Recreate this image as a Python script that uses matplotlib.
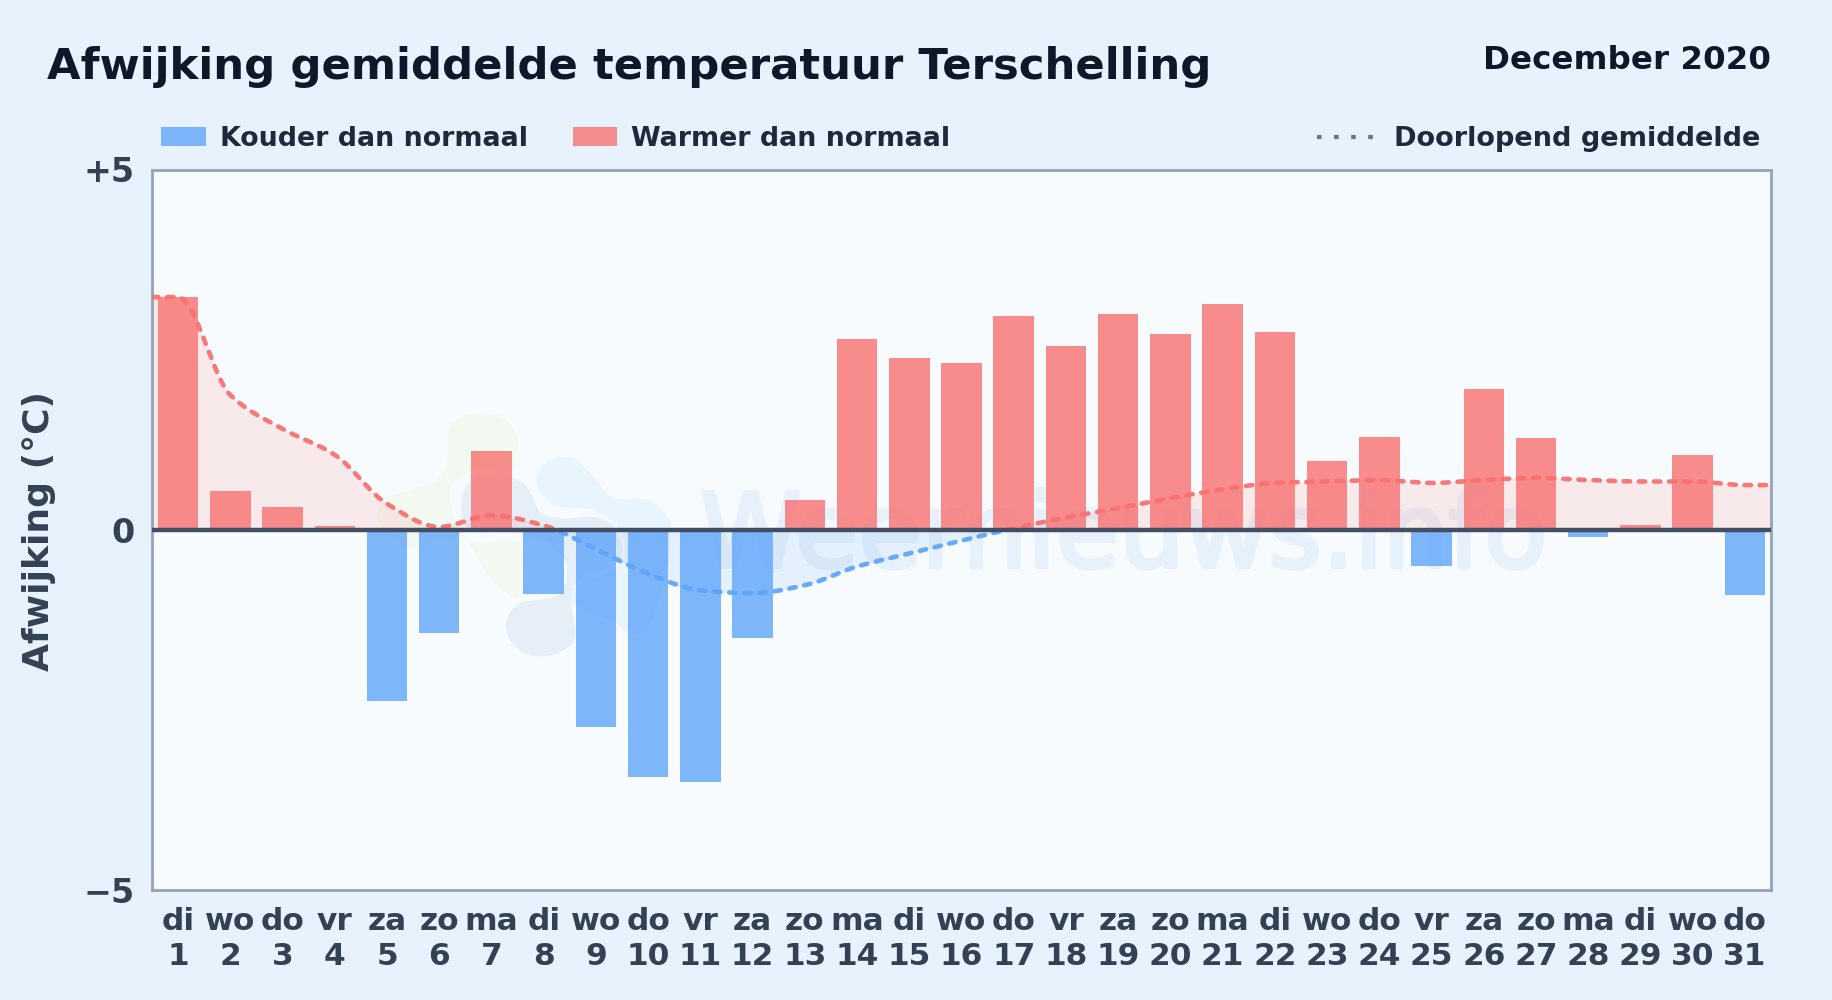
import numpy as np
import matplotlib
matplotlib.use("Agg")
import matplotlib.pyplot as plt
import matplotlib.patheffects as pe
from matplotlib.patches import PathPatch, Rectangle
from matplotlib.path import Path
from matplotlib.lines import Line2D

plt.rcParams['font.family'] = ['DejaVu Sans']

TITLE = "Afwijking gemiddelde temperatuur Terschelling"
PERIOD = "December 2020"
YLABEL = "Afwijking (°C)"
LEG_COLD = "Kouder dan normaal"
LEG_WARM = "Warmer dan normaal"
LEG_AVG = "Doorlopend gemiddelde"
WATERMARK = "Weernieuws.info"

days = list(range(1, 32))
weekdays = ["di","wo","do","vr","za","zo","ma","di","wo","do","vr","za","zo","ma","di","wo",
            "do","vr","za","zo","ma","di","wo","do","vr","za","zo","ma","di","wo","do"]
anomaly = [3.23,0.54,0.31,0.05,-2.37,-1.43,1.09,-0.89,-2.74,-3.43,-3.50,-1.50,0.41,2.65,2.39,2.31,
           2.97,2.55,3.00,2.71,3.13,2.75,0.96,1.29,-0.50,1.95,1.27,-0.10,0.06,1.04,-0.90]
running = [3.23,1.87,1.40,1.04,0.36,0.04,0.20,0.06,-0.27,-0.61,-0.84,-0.88,-0.77,-0.51,-0.33,-0.15,
           0.02,0.17,0.30,0.44,0.56,0.65,0.67,0.69,0.65,0.69,0.72,0.69,0.67,0.67,0.62]

BLUE, RED = "#60a5fa", "#f87171"
INK, TICK = "#1e293b", "#334155"
W, H = 1832, 1000
S = 1832 / 1568  # positions below are measured on a 1568-wide view


def monotone(x, y, n=24):
    """Monotone cubic drawing of a line through its points (curve style only)."""
    x, y = np.asarray(x, float), np.asarray(y, float)
    h = np.diff(x); d = np.diff(y) / h
    m = np.zeros_like(y); m[0], m[-1] = d[0], d[-1]
    for i in range(1, len(x) - 1):
        m[i] = 0 if d[i-1] * d[i] <= 0 else 2 * d[i-1] * d[i] / (d[i-1] + d[i])
    xs, ys = [], []
    for i in range(len(h)):
        t = np.linspace(0, 1, n, endpoint=False)
        xs.append(x[i] + t * h[i])
        ys.append((2*t**3-3*t**2+1)*y[i] + (t**3-2*t**2+t)*h[i]*m[i]
                  + (-2*t**3+3*t**2)*y[i+1] + (t**3-t**2)*h[i]*m[i+1])
    return np.r_[np.concatenate(xs), x[-1]], np.r_[np.concatenate(ys), y[-1]]


fig = plt.figure(figsize=(W/100, H/100), dpi=100, facecolor="#e8f2fc")

L, R, T, B = 152, 1771, 169.5, 890
ax = fig.add_axes([L/W, 1-B/H, (R-L)/W, (B-T)/H], facecolor="#f8fbfe")
ax.set_xlim(0.5, 31.5); ax.set_ylim(-5, 5)


def blob(points, color):
    # points measured in a 3x crop whose origin is (360, 390) of the picture
    p = np.array(points, float) / 3 + np.array([360, 390])
    n = len(p); verts = [p[0]]; codes = [Path.MOVETO]
    for i in range(n):
        p0, p1, p2, p3 = p[i-1], p[i], p[(i+1) % n], p[(i+2) % n]
        verts += [p1 + (p2-p0)/6, p2 - (p3-p1)/6, p2]
        codes += [Path.CURVE4] * 3
    verts = np.array(verts); verts[:, 1] = H - verts[:, 1]
    ax.add_patch(PathPatch(Path(verts, codes), transform=None, fc=color, ec="none", zorder=0.5))


# watermark logo + text
blob([(265,130),(300,85),(375,70),(440,90),(475,160),(460,230),(480,330),(480,610),(430,600),
      (380,550),(340,480),(300,440),(180,470),(140,470),(60,400),(60,350),(90,320),(210,280),(260,230)],
     "#f3f9f0")
blob([(270,330),(300,260),(430,225),(520,270),(570,340),(640,355),(720,355),(790,410),(800,510),
      (660,590),(640,640),(640,600),(480,460),(330,450)], "#f8fbfe")
blob([(530,260),(570,210),(640,205),(700,260),(760,325),(860,330),(925,385),(930,440),(920,560),
      (860,720),(790,720),(770,700),(640,640),(630,600),(780,520),(780,420),(700,360),(600,350),(545,310)],
     "#e8f4fe")
blob([(305,330),(340,265),(430,255),(500,290),(545,370),(620,385),(700,380),(765,415),(780,510),
      (640,590),(645,740),(590,790),(510,795),(450,750),(440,690),(480,640),(600,610),(610,500),
      (490,430),(330,420)], "#e6eff8")
wm = ax.text(0.600, 0.488, WATERMARK, transform=ax.transAxes, ha="center", va="center",
             fontsize=74, fontweight="normal", color="#e7f1fb", zorder=0.6)
wm.set_path_effects([pe.withStroke(linewidth=3, foreground="#e7f1fb")])

# bars
vals = np.array(anomaly)
ax.bar(days, vals, width=0.775, color=[RED if v >= 0 else BLUE for v in vals],
       alpha=0.8, linewidth=0, zorder=2)

# running mean, with the first value held to the left edge and the last to the right edge
rx, ry = monotone([0.5] + days + [31.5], [running[0]] + running + [running[-1]])
ax.fill_between(rx, ry, 0, where=ry >= 0, interpolate=True, color=RED, alpha=0.13, lw=0, zorder=1)
ax.fill_between(rx, ry, 0, where=ry <= 0, interpolate=True, color=BLUE, alpha=0.12, lw=0, zorder=1)
xl = ax.get_xlim()
for col, y0, y1 in [(RED, 0, 5), (BLUE, -5, 0)]:
    ln, = ax.plot(rx, ry, color=col, lw=3.3, ls=(0, (1.4, 1.9)), dash_capstyle="round", zorder=3, alpha=0.95)
    ln.set_clip_path(Rectangle((xl[0], y0), xl[1]-xl[0], y1-y0, transform=ax.transData))

ax.axhline(0, color="#414e63", lw=3.2, zorder=4)

for s in ax.spines.values():
    s.set_color("#94a3b8"); s.set_linewidth(2.0)
ax.set_xticks(days)
ax.set_xticklabels([f"{w}\n{d}" for w, d in zip(weekdays, days)], fontsize=22.5,
                   fontweight="bold", color=TICK, linespacing=1.28)
ax.set_yticks([-5, 0, 5])
ax.set_yticklabels(["\u22125", "0", "+5"], fontsize=24, fontweight="bold", color=TICK)
ax.tick_params(axis="x", length=0, pad=12)
ax.tick_params(axis="y", length=0, pad=12.5)
fig.text(33*S/W, 1-454.5*S/H, YLABEL, rotation=90, ha="center", va="center", fontsize=26,
         fontweight="bold", color=TICK)

# header
fig.text(40*S/W, 1-57*S/H, TITLE, ha="left", va="center", fontsize=31.2, fontweight="bold", color="#0f172a")
fig.text(1516*S/W, 1-52*S/H, PERIOD, ha="right", va="center", fontsize=23.4, fontweight="bold", color="#0f172a")

# legend
for x0, x1, col, txt, tx in [(138, 176, BLUE, LEG_COLD, 188), (490, 528, RED, LEG_WARM, 540)]:
    fig.add_artist(Rectangle((x0*S/W, 1-125*S/H), (x1-x0)*S/W, 16*S/H, transform=fig.transFigure,
                             fc=col, ec="none", alpha=0.8))
    fig.text(tx*S/W, 1-119*S/H, txt, ha="left", va="center", fontsize=19.35, fontweight="bold", color=INK)
fig.add_artist(Line2D([1127*S/W, 1177*S/W], [1-117*S/H]*2, transform=fig.transFigure, color="#64748b",
                      lw=3.0, ls=(0, (1.1, 3.0))))
fig.text(1507*S/W, 1-119*S/H, LEG_AVG, ha="right", va="center", fontsize=19.5, fontweight="bold", color=INK)

fig.savefig("out.png", dpi=100, facecolor=fig.get_facecolor())
